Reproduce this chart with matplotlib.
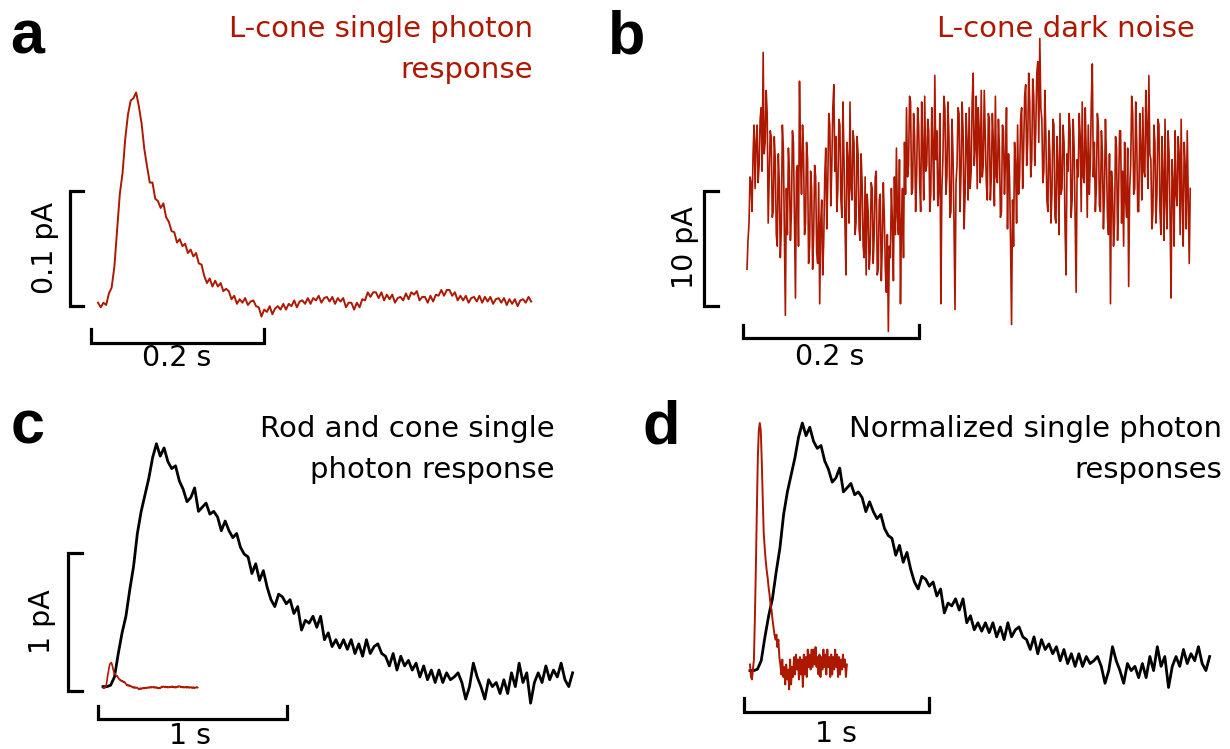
import numpy as np
import matplotlib.pyplot as plt

plt.rcParams['font.family'] = 'DejaVu Sans'

RED = '#ad1800'
W, H = 1230, 749          # output size in pixels (dpi 100)

# ---- data ----
# L-cone single photon response, in 1e-3 pA, sampled every 3.15 ms
cone_dt = 0.00315
cone_spr = np.array([
    2, -2, 2, 0, 10, 15, 33, 65, 96, 114, 144, 165, 177, 179, 184, 172,
    157, 135, 120, 106, 106, 92, 90, 84, 88, 76, 72, 64, 63, 54, 57, 51,
    53, 45, 48, 42, 45, 36, 35, 25, 19, 23, 16, 21, 16, 19, 12, 14,
    12, 5, 8, 1, 5, 2, 6, 0, 3, 4, -1, -2, -10, -4, -6, -1,
    -8, -3, -1, -4, 1, -4, 1, -1, 4, -2, 3, 4, 1, 6, 1, 6,
    4, 8, 2, 6, 7, 3, 7, 1, 6, 3, 6, -2, 2, 2, -4, 2,
    -2, 5, 4, 11, 7, 11, 11, 6, 11, 4, 9, 5, 9, 2, 6, 7,
    4, 10, 5, 11, 9, 12, 4, 7, 7, 2, 8, 3, 9, 8, 13, 8,
    13, 13, 8, 11, 4, 8, 4, 8, 2, 6, 7, 3, 8, 2, 7, 3,
    7, 1, 5, 6, 2, 6, 0, 5, 1, 5, -1, 4, 5, 2, 7, 3]) * 1e-3   # pA

# L-cone dark noise, pA, sampled every 1.15 ms
noise_dt = 0.00115
dark_noise = [
    -6.0, -3.5, -2.0, 2.0, 1.5, -1.0, 4.0, 6.5, 1.0, 5.0, 6.5, 1.5, 3.0, 7.0, 8.0, 2.5, 12.8, 4.0, 5.0, 9.5,
    7.5, -2.0, 2.0, 6.0, 5.5, -1.5, -1.0, 5.5, 3.5, -3.0, -4.0, 4.0, 1.5, -5.0, -2.5, 6.5, 4.5, -2.5, -10.0, 1.0,
    -3.0, 4.5, 2.5, -3.5, -1.0, 6.0, 5.0, -2.0, -8.5, 2.5, 3.0, -4.0, 10.3, 3.5, 0.5, 6.5, 4.0, -3.0, -2.0, 5.0,
    3.5, -5.5, -4.0, 2.5, 1.0, -6.0, -3.0, 3.0, 2.0, -4.5, -5.5, 1.5, -9.0, -2.0, 0.0, -6.5, -3.5, 2.0, 4.5, -2.5,
    1.5, 7.5, 6.5, -0.5, 3.0, 8.0, 10.0, 2.5, 5.5, -1.0, 1.0, 7.0, 6.5, 0.0, -1.5, 8.5, 4.0, -2.0, -6.5, 5.0,
    3.5, -2.0, 8.5, 1.0, 0.0, 6.0, 5.0, -3.0, -2.0, 5.5, 4.0, -2.5, -3.5, 4.0, 1.5, -4.0, -5.0, 2.0, -6.5, 0.5,
    -1.0, -6.0, -4.5, 1.5, 1.0, -5.5, -3.0, 2.0, 2.5, -6.5, -6.0, 0.0, 0.5, -7.0, -4.0, 1.5, -1.5, -6.0, -8.0, -3.0,
    -11.4, -4.0, -5.0, 1.0, -2.0, -7.0, 2.0, -3.0, 4.5, -1.5, -3.0, 3.5, -9.0, -2.0, 1.0, -5.0, 5.0, 0.5, 8.0, 2.0,
    3.0, 9.0, 8.5, 0.5, 1.0, 7.5, 5.5, -1.0, 2.0, 8.0, 6.5, 1.5, -1.0, 8.5, 4.5, 0.0, 9.0, 2.5, 3.0, 7.0,
    6.0, -1.0, 0.5, 8.0, 4.5, 0.0, 10.8, 3.5, 6.0, -0.5, 1.0, 7.5, -9.0, 1.0, 3.5, 9.0, 8.0, 0.5, 2.0, 8.5,
    5.5, -1.5, -1.0, 7.0, 4.0, -2.0, -9.5, 1.5, 3.0, 8.0, 7.5, -1.0, 2.5, 8.5, 6.0, -2.5, 0.5, 7.5, 5.0, 0.0,
    8.0, 1.0, 2.5, 8.5, 11.0, 3.0, 4.5, 9.0, 1.0, 8.0, 6.0, 1.5, 9.5, 2.0, 3.0, 9.5, 5.5, 1.5, 0.0, 7.5,
    7.0, 0.0, 2.0, 7.5, 5.0, -0.5, 9.0, 2.0, 1.5, 7.0, 4.5, -1.5, -1.0, 6.5, 6.0, 0.5, 3.5, 8.0, -2.5, 4.0,
    2.0, -3.5, -10.8, 0.0, -4.0, 5.0, 3.0, -2.0, 6.5, 0.5, 2.0, 7.0, 8.0, 1.0, 4.5, 9.0, 10.0, 3.0, 5.0, 11.0,
    8.5, 2.0, 3.5, 10.5, 9.0, 3.0, 6.0, 11.0, 12.0, 5.0, 14.0, 8.0, 7.0, 1.5, 2.5, 9.5, 5.5, 0.0, -1.0, 6.0,
    4.0, -2.0, 0.5, 7.0, 6.5, -1.5, -2.0, 5.5, 3.0, -3.0, 7.5, 0.5, 1.0, 6.5, 5.0, -2.5, -6.5, 4.0, 2.5, 7.5,
    6.0, -1.5, 0.0, 7.0, 4.5, -2.0, -8.0, 3.5, 2.0, 7.5, 5.5, -1.0, 8.5, 2.0, 1.5, 8.0, 4.0, -1.5, 6.5, 0.5,
    3.0, 8.5, 11.8, 2.0, 5.0, -1.0, 1.0, 7.5, 6.5, -0.5, -1.0, 6.0, 4.0, -2.5, 0.5, 7.0, 3.5, -1.5, -3.0, 4.0,
    -9.0, 2.5, 1.0, -4.0, -2.0, 5.5, 4.5, -3.5, 0.5, 6.0, 6.0, -2.0, 2.5, -4.0, 5.0, 0.0, -1.5, 4.5, -7.5, 1.0,
    3.0, 9.0, 7.5, 0.5, 1.0, 8.5, 5.0, -1.0, -1.0, 7.5, 4.5, 0.0, 8.0, 2.5, 2.0, 9.5, 6.5, 1.0, 10.8, 4.0,
    3.5, -2.5, -1.0, 6.5, 5.0, -2.0, 0.5, 7.0, 6.5, -1.0, -3.0, 5.5, 2.0, -3.5, 7.0, 0.0, -2.5, 6.0, 4.0, -1.5,
    -8.5, 3.5, 1.5, -4.0, 6.0, 0.5, -0.5, 5.5, 4.0, -3.0, 7.0, 0.0, -4.0, 5.0, 3.0, -2.5, 6.0, 0.5, -5.5, 1.0]

# rod single photon response, pA, sampled every 20.2 ms
rod_dt = 0.0202
rod_spr = np.array([
    0.01, 0.01, 0.02, 0.08, 0.25, 0.40, 0.52, 0.71, 0.88, 1.12,
    1.28, 1.40, 1.52, 1.67, 1.77, 1.68, 1.74, 1.64, 1.59, 1.61,
    1.50, 1.44, 1.35, 1.38, 1.45, 1.28, 1.31, 1.34, 1.26, 1.28,
    1.24, 1.14, 1.21, 1.14, 1.09, 1.12, 1.02, 0.97, 0.95, 0.83,
    0.90, 0.78, 0.85, 0.73, 0.64, 0.59, 0.68, 0.66, 0.61, 0.64,
    0.54, 0.59, 0.42, 0.49, 0.47, 0.52, 0.44, 0.52, 0.35, 0.40,
    0.30, 0.35, 0.29, 0.35, 0.28, 0.35, 0.25, 0.32, 0.23, 0.35,
    0.25, 0.30, 0.32, 0.25, 0.23, 0.16, 0.25, 0.13, 0.23, 0.16,
    0.20, 0.13, 0.18, 0.08, 0.16, 0.06, 0.13, 0.04, 0.13, 0.04,
    0.11, 0.06, 0.08, 0.11, 0.04, -0.08, 0.01, 0.18, 0.08, 0.01,
    -0.08, 0.06, 0.01, 0.04, -0.04, 0.06, -0.04, 0.11, 0.01, 0.18,
    0.04, 0.11, -0.11, 0.04, 0.11, 0.04, 0.16, 0.06, 0.13, 0.08,
    0.18, 0.06, 0.01, 0.11])

# normalized L-cone response shown in panel d, sampled every 5.29 ms
cone_norm_dt = 0.00529
cone_norm = [
    0.03, -0.02, -0.03, 0.01, 0.05, 0.22, 0.42, 0.65, 0.86, 0.97,
    1.00, 0.97, 0.85, 0.70, 0.56, 0.50, 0.45, 0.41, 0.38, 0.34,
    0.31, 0.27, 0.25, 0.21, 0.18, 0.15, 0.13, 0.15, 0.10, 0.13,
    0.06, 0.03, -0.01, 0.05, -0.02, 0.02, -0.05, 0.03, -0.03, 0.01,
    -0.07, 0.05, -0.05, 0.02, -0.02, 0.06, -0.01, 0.07, 0.01, 0.05,
    -0.03, 0.06, -0.01, 0.05, -0.06, 0.07, -0.01, 0.06, -0.02, 0.09,
    0.02, 0.07, 0.01, 0.09, 0.02, 0.09, 0.03, 0.10, 0.02, 0.06,
    -0.01, 0.07, -0.02, 0.06, 0.01, 0.09, 0.02, 0.07, -0.01, 0.09,
    0.02, 0.06, -0.02, 0.07, -0.01, 0.06, 0.01, 0.09, 0.02, 0.07,
    -0.02, 0.06, -0.01, 0.05, 0.01, 0.07, 0.02, 0.05, -0.02, 0.03]

fig = plt.figure(figsize=(W / 100, H / 100), dpi=100)


def px_axes(x0, y0, sx, sy):
    # full-figure axes, data origin at pixel (x0, y0), sx / sy pixels per unit
    ax = fig.add_axes([0, 0, 1, 1])
    ax.set_xlim(-x0 / sx, (W - x0) / sx)
    ax.set_ylim((y0 - H) / sy, y0 / sy)
    ax.axis('off')
    return ax


def at(ax, px, py):
    return ax.transData.inverted().transform((px, H - py))


def vbar(ax, px, py_bottom, length, serif_px):
    x, y = at(ax, px, py_bottom)
    s = at(ax, px + serif_px, py_bottom)[0] - x
    ax.plot([x + s, x, x, x + s], [y, y, y + length, y + length],
            color='k', lw=2.3, solid_joinstyle='miter')


def hbar(ax, px_left, py, length, serif_px):
    x, y = at(ax, px_left, py)
    s = at(ax, px_left, py - serif_px)[1] - y
    ax.plot([x, x, x + length, x + length], [y + s, y, y, y + s],
            color='k', lw=2.3, solid_joinstyle='miter')


def ptext(px, py, s, **kw):
    fig.text(px / W, 1 - py / H, s, **kw)


def title(px_right, baselines, lines, color):
    for yb, line in zip(baselines, lines):
        ptext(px_right, yb, line, ha='right', va='baseline', fontsize=21, color=color)


def letter(px, py, s):
    ptext(px, py, s, ha='left', va='baseline', fontsize=44,
          weight='bold', family='Liberation Sans')


# a: L-cone single photon response
ax = px_axes(98, 305, 865, 1155)
ax.plot(np.arange(len(cone_spr)) * cone_dt, cone_spr, color=RED, lw=1.4)
vbar(ax, 70, 306, 0.1, 13)
hbar(ax, 91, 343, 0.2, 14)
ptext(45, 248, '0.1 pA', rotation=90, ha='center', va='center', fontsize=20.5)
ptext(177, 358, '0.2 s', ha='center', va='center', fontsize=20.5)
letter(10, 53, 'a')
title(533, [37, 78], ['L-cone single photon', 'response'], RED)

# b: L-cone dark noise
ax = px_axes(747, 200, 878, 11.53)
ax.plot(np.arange(len(dark_noise)) * noise_dt, dark_noise, color=RED, lw=1.2)
vbar(ax, 704, 306, 10, 14)
hbar(ax, 743, 338, 0.2, 13)
ptext(685, 248, '10 pA', rotation=90, ha='center', va='center', fontsize=20.5)
ptext(830, 357, '0.2 s', ha='center', va='center', fontsize=20.5)
letter(608, 53, 'b')
title(1195, [37], ['L-cone dark noise'], RED)

# c: rod and cone responses on the same current scale
ax = px_axes(103, 688, 189, 138)
ax.plot(np.arange(len(rod_spr)) * rod_dt, rod_spr, color='k', lw=2.0)
ax.plot(np.arange(len(cone_spr)) * cone_dt, cone_spr, color=RED, lw=1.2)
vbar(ax, 68, 691, 1, 14)
hbar(ax, 98, 719, 1, 13)
ptext(42, 622, '1 pA', rotation=90, ha='center', va='center', fontsize=20.5)
ptext(190, 736, '1 s', ha='center', va='center', fontsize=20.5)
letter(11, 444, 'c')
title(555, [437, 478], ['Rod and cone single', 'photon response'], 'k')

# d: both responses normalized to their peaks
ax = px_axes(750, 672, 185, 249)
ax.plot(np.arange(len(rod_spr)) * rod_dt, rod_spr / rod_spr.max(), color='k', lw=2.0)
ax.plot(np.arange(len(cone_norm)) * cone_norm_dt, cone_norm, color=RED, lw=1.4)
hbar(ax, 744, 712, 1, 14)
ptext(836, 734, '1 s', ha='center', va='center', fontsize=20.5)
letter(643, 444, 'd')
title(1222, [437, 478], ['Normalized single photon', 'responses'], 'k')

fig.savefig('out.png', dpi=100)
